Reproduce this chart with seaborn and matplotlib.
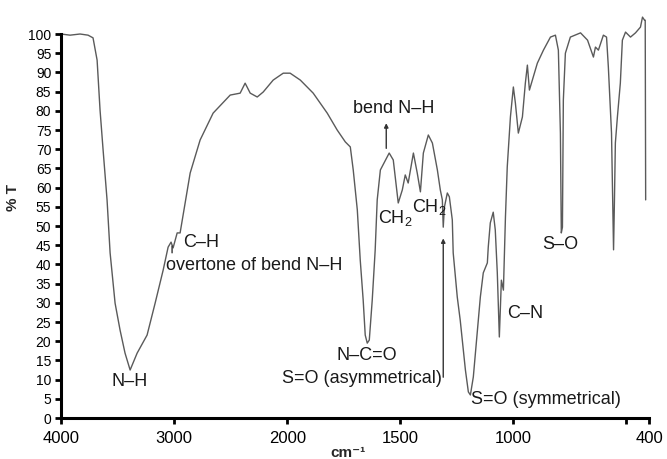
## IR spectrum (% transmittance vs wavenumber)
import numpy as np
import pandas as pd
import matplotlib
matplotlib.use("Agg")
import matplotlib.pyplot as plt
import seaborn as sns

sns.set_theme(style="white")
plt.rcParams["font.family"] = ["Liberation Sans", "DejaVu Sans"]
plt.rcParams["mathtext.fontset"] = "custom"
plt.rcParams["mathtext.rm"] = "Liberation Sans"
plt.rcParams["mathtext.default"] = "regular"

## Data
wavenumber = [4000, 3920, 3832, 3761, 3717, 3681, 3655, 3628, 3593, 3566,
              3522, 3478, 3434, 3389, 3327, 3239, 3168, 3097, 3053, 3027,
              3009, 2973, 2947, 2920, 2858, 2770, 2655, 2504, 2416, 2372,
              2327, 2265, 2212, 2124, 2035, 1987, 1942, 1885, 1823, 1779,
              1743, 1721, 1708, 1690, 1677, 1664, 1655, 1646, 1637, 1624,
              1611, 1602, 1588, 1558, 1549, 1531, 1509, 1491, 1478, 1465,
              1442, 1425, 1411, 1398, 1376, 1358, 1336, 1323, 1314, 1310,
              1305, 1292, 1283, 1270, 1266, 1248, 1235, 1212, 1199, 1190,
              1177, 1159, 1146, 1133, 1115, 1111, 1102, 1089, 1080, 1071,
              1062, 1053, 1044, 1035, 1027, 1013, 1000, 991, 978, 960,
              947, 938, 929, 916, 894, 867, 836, 814, 801, 792,
              788, 783, 779, 770, 748, 703, 672, 646, 637, 624,
              602, 588, 580, 566, 562, 557, 553, 549, 540, 527,
              518, 504, 482, 460, 438, 429, 420, 417, 416, 415]
transmittance = [100, 99.7, 100, 99.7, 99, 93.2, 80.2, 69.8, 56.8, 43,
                 29.9, 22.9, 16.9, 12.5, 16.9, 21.6, 29.9, 38.5, 44.5, 45.8,
                 44.3, 48.2, 48.2, 52.9, 63.8, 72.4, 79.4, 84.1, 84.6, 87.2,
                 84.6, 83.6, 84.9, 88, 89.8, 89.8, 88, 84.6, 79.4, 75,
                 71.9, 70.6, 64.6, 54.2, 41.1, 30.7, 21.6, 19.5, 20.3, 30.7,
                 43.7, 56.8, 64.6, 68, 69, 67.2, 56, 59.4, 63.3, 61.2,
                 69, 63.8, 58.9, 69, 73.7, 71.6, 64.6, 59.4, 56.8, 49.7,
                 54.9, 58.6, 57.6, 51.6, 43, 31.5, 25.5, 12.5, 6.8, 6,
                 10.7, 22.9, 31.5, 37.8, 40.4, 44.5, 50.8, 53.6, 49, 37.8,
                 21.1, 35.9, 33.3, 52.3, 65.4, 78.4, 86.2, 82, 74.2, 78.4,
                 87.2, 91.9, 85.4, 88, 92.4, 95.8, 99.2, 99.7, 95.8, 74.2,
                 48.2, 49.7, 82.8, 95, 99.2, 100.3, 98.4, 94, 96.6, 95.8,
                 99.7, 99.2, 91.4, 74.2, 61.2, 43.8, 56.8, 71.6, 78.4, 87.2,
                 98.4, 100.5, 99.2, 100.3, 101.8, 104.4, 103.6, 103.6, 82.8, 56.8]

x_ticks = [4000, 3000, 2000, 1500, 1000, 500, 400]
x_tick_labels = ["4000", "3000", "2000", "1500", "1000", "", "400"]
y_ticks = list(range(0, 101, 5))

df = pd.DataFrame({"wn": wavenumber, "T": transmittance})


# x axis is compressed by 2 above 2000 cm-1
def fwd(wn):
    wn = np.asarray(wn, dtype=float)
    return np.where(wn > 2000, 2000 + (wn - 2000) / 2, wn)


def inv(u):
    u = np.asarray(u, dtype=float)
    return np.where(u > 2000, 2000 + 2 * (u - 2000), u)


## Plot
fig = plt.figure(figsize=(6.67, 4.59), dpi=100)
ax = fig.add_axes([0.0915, 0.0893, 0.8816, 0.8366])
sns.lineplot(data=df, x="wn", y="T", sort=False, estimator=None,
             color="#5a5a5a", linewidth=1.0, ax=ax)
ax.lines[0].set_clip_on(False)

ax.set_xscale("function", functions=(fwd, inv))
ax.set_xlim(4000, 400)
ax.set_ylim(0, 100)
ax.set_xticks(x_ticks)
ax.set_xticklabels(x_tick_labels)
ax.set_yticks(y_ticks)
ax.tick_params(axis="x", labelsize=12, length=4, width=2, pad=5, colors="black", bottom=True)
ax.tick_params(axis="y", labelsize=10, length=4, width=2, pad=3, colors="black", left=True)
for s in ["top", "right"]:
    ax.spines[s].set_visible(False)
for s in ["left", "bottom"]:
    ax.spines[s].set_linewidth(2.2)
    ax.spines[s].set_color("black")

ax.set_ylabel("% T", fontsize=11, fontweight="bold")
ax.yaxis.set_label_coords(-0.07, 0.575)
ax.set_xlabel("cm\u207b\u00b9", fontsize=11, fontweight="bold")
ax.xaxis.set_label_coords(0.488, -0.072)

## Band labels
txt = dict(fontsize=13, color="#1a1a1a")
ax.text(3389, 9.4, "N\u2013H", ha="center", va="center", **txt)
ax.text(2920, 45.8, "C\u2013H", ha="left", va="center", **txt)
ax.text(3071, 39.8, "overtone of bend N\u2013H", ha="left", va="center", **txt)
ax.annotate("", xy=(3018, 45.5), xytext=(3018, 42.3),
            arrowprops=dict(arrowstyle="-", color="#333333", lw=1))
ax.text(1527, 80.7, "bend N\u2013H", ha="center", va="center", **txt)
ax.annotate("", xy=(1562, 77.5), xytext=(1562, 69.5),
            arrowprops=dict(arrowstyle="-|>", color="#333333", lw=1, mutation_scale=6))
ax.text(1597, 52, "CH$_2$", ha="left", va="center", **txt)
ax.text(1449, 55, "CH$_2$", ha="left", va="center", **txt)
ax.text(1646, 16.4, "N\u2013C=O", ha="center", va="center", **txt)
ax.text(1314, 10.4, "S=O (asymmetrical)", ha="right", va="center", **txt)
ax.annotate("", xy=(1310, 47.5), xytext=(1310, 9.9),
            arrowprops=dict(arrowstyle="-|>", color="#333333", lw=1, mutation_scale=6))
ax.text(1186, 4.7, "S=O (symmetrical)", ha="left", va="center", **txt)
ax.text(1027, 27.3, "C\u2013N", ha="left", va="center", **txt)
ax.text(792, 45.3, "S\u2013O", ha="center", va="center", **txt)

plt.savefig("out.png", dpi=100)
plt.close()
